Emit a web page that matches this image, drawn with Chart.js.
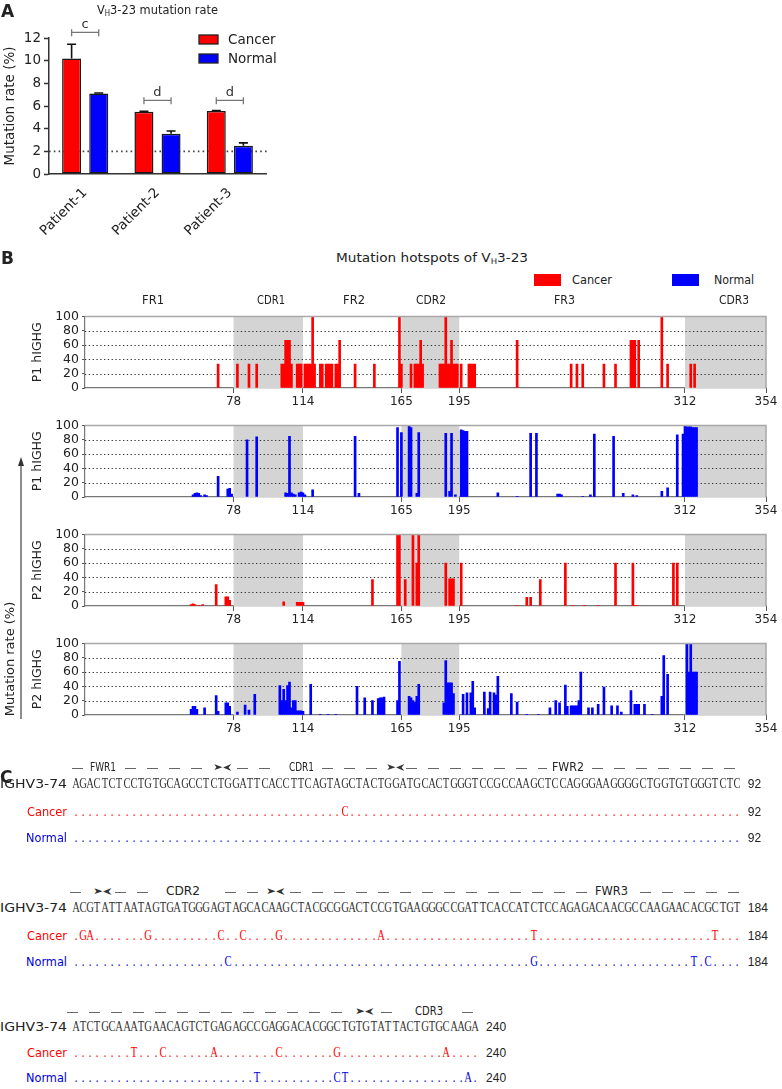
<!DOCTYPE html>
<html>
<head>
<meta charset="utf-8">
<script src="https://cdn.jsdelivr.net/npm/chart.js@4.4.1/dist/chart.umd.min.js"></script>
<style>
  body { margin: 0; background: #fff; width: 782px; height: 1089px; position: relative; overflow: hidden; font-family: 'DejaVu Sans', sans-serif; color: #222; }
  canvas { position: absolute; left: 0; }
  .t { position: absolute; white-space: nowrap; line-height: 20px; transform-origin: 0 50%; }
  .t sub { font-size: 62%; vertical-align: -2px; line-height: 0; }
  .c { position: absolute; width: 14px; text-align: center; line-height: 20px; font-family: 'Liberation Serif', serif; font-size: 14px; transform: scaleX(0.76); }
  .d { position: absolute; height: 1.3px; background: repeating-linear-gradient(to right, #666 0 11px, transparent 11px 22px); }
  .box { position: absolute; }
</style>
</head>
<body>
<canvas id="chartA" width="300" height="240" style="top:0"></canvas>
<canvas id="hs1" width="782" height="112" style="top:306px"></canvas>
<canvas id="hs2" width="782" height="112" style="top:415px"></canvas>
<canvas id="hs3" width="782" height="112" style="top:524px"></canvas>
<canvas id="hs4" width="782" height="112" style="top:633px"></canvas>
<svg style="position:absolute;left:14px;top:457px" width="14" height="264">
  <line x1="7" y1="6" x2="7" y2="262" stroke="#444" stroke-width="1.2"/>
  <polygon points="7,0 4,9 10,9" fill="#333"/>
</svg>
<script>
// ---- Panel A: VH3-23 mutation rate
const patients = ['Patient-1', 'Patient-2', 'Patient-3'];
const cancerRate = [10.2, 5.5, 5.55];
const cancerErr = [1.25, 0.03, 0.05];
const normalRate = [7.1, 3.55, 2.5];
const normalErr = [0.05, 0.25, 0.25];
const sigLabels = ['c', 'd', 'd'];
const sigLevel = [12.5, 6.5, 6.5];
const refLine = 2;

// ---- Panel B: mutation hotspots (nucleotide position, mutation rate %)
const posTicks = [78, 114, 165, 195, 312, 354];
const cdrStart = [78, 165, 312];
const cdrEnd = [114, 195, 354];
const regionNames = ['FR1', 'CDR1', 'FR2', 'CDR2', 'FR3', 'CDR3'];
const regionLabelPos = [36.5, 97.4, 140.4, 180.4, 249.6, 337.4];
const hotGrid = [20, 40, 60, 80];

const p1CancerPos = [70, 80, 86, 90, 103, 104, 105, 106, 107, 108, 111, 112, 113, 115, 116, 117, 118, 119, 120, 123, 124, 126, 127, 128, 129, 131, 132, 133, 141, 151, 164, 165, 170, 172, 173, 174, 175, 176, 185, 186, 187, 188, 189, 190, 191, 192, 193, 194, 196, 200, 201, 202, 203, 225, 253, 256, 259, 270, 276, 284, 285, 286, 288, 300, 303, 315, 317];
const p1CancerVal = [33.3, 33.3, 33.3, 33.3, 33.3, 33.3, 66.7, 66.7, 66.7, 33.3, 33.3, 33.3, 33.3, 33.3, 33.3, 33.3, 33.3, 100, 33.3, 33.3, 33.3, 33.3, 33.3, 33.3, 33.3, 33.3, 33.3, 66.7, 33.3, 33.3, 100, 33.3, 33.3, 33.3, 33.3, 33.3, 66.7, 33.3, 33.3, 33.3, 33.3, 100, 33.3, 33.3, 66.7, 33.3, 33.3, 33.3, 33.3, 33.3, 33.3, 33.3, 33.3, 66.7, 33.3, 33.3, 33.3, 33.3, 33.3, 66.7, 66.7, 66.7, 66.7, 100, 33.3, 33.3, 33.3];

const p1NormalPos = [57, 58, 59, 60, 61, 63, 64, 70, 75, 76, 77, 85, 90, 105, 106, 107, 108, 109, 110, 112, 113, 114, 115, 119, 141, 143, 163, 165, 169, 170, 173, 174, 188, 190, 191, 193, 196, 197, 198, 199, 215, 225, 232, 235, 246, 247, 248, 259, 263, 265, 275, 280, 285, 287, 300, 303, 308, 311, 312, 313, 314, 315, 316, 317, 318];
const p1NormalVal = [3, 5, 6, 5, 2, 3, 2, 29, 11, 12, 4, 80, 84, 6, 5, 85, 6, 4, 3, 6, 7, 6, 3, 10, 85, 5, 97, 90, 100, 97, 5, 90, 89, 8, 89, 3, 94, 93, 92, 92, 6, 1, 89, 89, 4, 4, 3, 1, 3, 88, 85, 5, 3, 2, 8, 13, 87, 88, 100, 98, 98, 98, 97, 97, 97];

const p2CancerPos = [56, 57, 58, 60, 62, 69, 74, 75, 76, 104, 111, 112, 113, 114, 150, 163, 164, 167, 171, 173, 174, 188, 190, 191, 192, 196, 225, 230, 232, 237, 250, 254, 260, 267, 276, 285, 286, 287, 306, 308];
const p2CancerVal = [2, 3, 2, 1, 2, 30, 13, 13, 8, 6, 5, 5, 5, 5, 37, 100, 100, 37, 100, 60, 100, 60, 38, 38, 38, 60, 1, 12, 12, 37, 60, 1, 1, 1, 60, 60, 1, 1, 60, 60];

const p2NormalPos = [56, 57, 58, 59, 63, 69, 70, 74, 75, 76, 80, 84, 86, 89, 102, 103, 104, 105, 106, 107, 108, 109, 110, 111, 112, 113, 114, 118, 123, 127, 131, 142, 146, 150, 153, 154, 155, 156, 163, 164, 169, 170, 171, 172, 173, 174, 187, 188, 189, 190, 191, 192, 197, 199, 201, 202, 203, 208, 210, 211, 213, 214, 215, 222, 225, 230, 236, 242, 245, 247, 250, 251, 253, 254, 255, 256, 257, 258, 262, 264, 267, 270, 274, 277, 279, 284, 286, 287, 288, 291, 295, 300, 301, 303, 313, 314, 315, 316, 317, 318];
const p2NormalVal = [8, 12, 12, 8, 10, 27, 5, 17, 17, 12, 4, 14, 7, 29, 41, 20, 36, 20, 41, 46, 10, 20, 20, 6, 6, 6, 5, 43, 1, 1, 1, 40, 24, 20, 23, 24, 24, 25, 20, 75, 26, 24, 20, 18, 26, 43, 17, 76, 45, 45, 45, 30, 29, 31, 31, 47, 10, 32, 9, 32, 31, 28, 54, 30, 18, 1, 1, 10, 20, 17, 42, 12, 13, 13, 13, 13, 20, 60, 10, 10, 15, 39, 13, 13, 4, 34, 15, 15, 15, 15, 1, 26, 83, 57, 100, 60, 100, 60, 60, 60];

// ---- Panel C: IGHV3-74 alignment
const seqRows = [
  'AGACTCTCCTGTGCAGCCTCTGGATTCACCTTCAGTAGCTACTGGATGCACTGGGTCCGCCAAGCTCCAGGGAAGGGGCTGGTGTGGGTCTC',
  'ACGTATTAATAGTGATGGGAGTAGCACAAGCTACGCGGACTCCGTGAAGGGCCGATTCACCATCTCCAGAGACAACGCCAAGAACACGCTGT',
  'ATCTGCAAATGAACAGTCTGAGAGCCGAGGACACGGCTGTGTATTACTGTGCAAGA'
];
const rowEnds = [92, 184, 240];
const cancerMut = [
  [[37, 'C']],
  [[1, 'G'], [2, 'A'], [10, 'G'], [20, 'C'], [23, 'C'], [28, 'G'], [42, 'A'], [63, 'T'], [88, 'T']],
  [[8, 'T'], [12, 'C'], [19, 'A'], [28, 'C'], [36, 'G'], [51, 'A']]
];
const normalMut = [
  [],
  [[21, 'C'], [63, 'G'], [85, 'T'], [87, 'C']],
  [[25, 'T'], [36, 'C'], [37, 'T'], [54, 'A']]
];

const RED = '#ff0000';
const BLUE = '#0000ff';
Chart.defaults.font.family = 'DejaVu Sans';
Chart.defaults.color = '#222';

// ---------- Panel A chart
const panelAPlugin = {
  id: 'panelA',
  beforeDatasetsDraw(chart) {
    const {ctx, chartArea: a, scales: {y}} = chart;
    const yy = y.getPixelForValue(refLine);
    ctx.save();
    ctx.strokeStyle = '#444';
    ctx.lineWidth = 1.6;
    ctx.setLineDash([1.6, 3.2]);
    ctx.beginPath();
    ctx.moveTo(a.left, yy);
    ctx.lineTo(a.right + 2, yy);
    ctx.stroke();
    ctx.restore();
  },
  afterDatasetsDraw(chart) {
    const {ctx, scales: {y}} = chart;
    const errs = [cancerErr, normalErr];
    const vals = [cancerRate, normalRate];
    ctx.save();
    // error bars (upper only)
    ctx.strokeStyle = '#111';
    ctx.lineWidth = 1.6;
    errs.forEach((e, d) => {
      chart.getDatasetMeta(d).data.forEach((bar, i) => {
        const top = y.getPixelForValue(vals[d][i] + e[i]);
        ctx.beginPath();
        ctx.moveTo(bar.x, bar.y);
        ctx.lineTo(bar.x, top);
        ctx.moveTo(bar.x - 4.5, top);
        ctx.lineTo(bar.x + 4.5, top);
        ctx.stroke();
      });
    });
    // significance brackets
    const m0 = chart.getDatasetMeta(0).data, m1 = chart.getDatasetMeta(1).data;
    ctx.strokeStyle = '#777';
    ctx.lineWidth = 1.3;
    ctx.fillStyle = '#333';
    ctx.font = '13px "DejaVu Sans"';
    ctx.textAlign = 'center';
    ctx.textBaseline = 'middle';
    sigLabels.forEach((lab, i) => {
      const x1 = m0[i].x, x2 = m1[i].x, yy = y.getPixelForValue(sigLevel[i]);
      ctx.beginPath();
      ctx.moveTo(x1, yy - 3); ctx.lineTo(x1, yy + 4);
      ctx.moveTo(x1, yy); ctx.lineTo(x2, yy);
      ctx.moveTo(x2, yy - 3); ctx.lineTo(x2, yy + 4);
      ctx.stroke();
      ctx.fillText(lab, (x1 + x2) / 2, yy - 8);
    });
    // legend
    ctx.textAlign = 'left';
    ctx.font = '13.5px "DejaVu Sans"';
    chart.data.datasets.forEach((ds, d) => {
      const by = 35 + d * 19;
      ctx.fillStyle = ds.backgroundColor;
      ctx.fillRect(199, by, 19, 9);
      ctx.strokeStyle = '#222';
      ctx.lineWidth = 1.3;
      ctx.strokeRect(199, by, 19, 9);
      ctx.fillStyle = '#222';
      ctx.fillText(ds.label, 228, by + 5);
    });
    ctx.restore();
  }
};

new Chart(document.getElementById('chartA'), {
  type: 'bar',
  data: {
    labels: patients,
    datasets: [
      { label: 'Cancer', data: cancerRate, backgroundColor: RED, borderColor: '#1a1a1a', borderWidth: 1.5, borderSkipped: false, categoryPercentage: 0.75, barPercentage: 0.7 },
      { label: 'Normal', data: normalRate, backgroundColor: BLUE, borderColor: '#1a1a1a', borderWidth: 1.5, borderSkipped: false, categoryPercentage: 0.75, barPercentage: 0.7 }
    ]
  },
  options: {
    responsive: false,
    animation: false,
    layout: { padding: { top: 38, right: 34, left: 0, bottom: 0 } },
    plugins: { legend: { display: false }, tooltip: { enabled: false } },
    scales: {
      x: {
        afterFit: s => { s.height = 66; },
        grid: { display: false },
        border: { color: '#333', width: 1.5 },
        ticks: { minRotation: 45, maxRotation: 45, font: { size: 13.5 }, color: '#222', padding: 3 }
      },
      y: {
        min: 0, max: 12,
        afterFit: s => { s.width = 49; },
        ticks: { stepSize: 2, font: { size: 13.5 }, color: '#222', padding: 3, autoSkip: false },
        grid: { drawOnChartArea: false, tickLength: 5, tickColor: '#333', tickWidth: 1.5 },
        border: { color: '#333', width: 1.5 },
        title: { display: true, text: 'Mutation rate (%)', font: { size: 13.5 }, color: '#222', padding: { top: 2 } }
      }
    }
  },
  plugins: [panelAPlugin]
});

// ---------- Panel B charts
const hotspotPlugin = {
  id: 'hotspotBg',
  beforeDatasetsDraw(chart) {
    const {ctx, chartArea: a, scales: {x, y}} = chart;
    ctx.save();
    ctx.fillStyle = '#d4d4d4';
    cdrStart.forEach((s, i) => {
      const x1 = x.getPixelForValue(s), x2 = x.getPixelForValue(cdrEnd[i]);
      ctx.fillRect(x1, a.top, x2 - x1, a.bottom - a.top);
    });
    ctx.strokeStyle = '#333';
    ctx.lineWidth = 1.2;
    ctx.setLineDash([1.3, 2.5]);
    hotGrid.forEach(v => {
      const yy = Math.round(y.getPixelForValue(v)) + 0.5;
      ctx.beginPath();
      ctx.moveTo(a.left, yy);
      ctx.lineTo(a.right, yy);
      ctx.stroke();
    });
    ctx.restore();
  },
  afterDatasetsDraw(chart) {
    const {ctx, chartArea: a} = chart;
    ctx.save();
    ctx.strokeStyle = '#a8a8a8';
    ctx.lineWidth = 1.5;
    ctx.beginPath();
    ctx.moveTo(a.left, a.top);
    ctx.lineTo(a.right, a.top);
    ctx.lineTo(a.right, a.bottom);
    ctx.stroke();
    ctx.restore();
  }
};

function hotspotChart(id, label, pos, vals, color) {
  return new Chart(document.getElementById(id), {
    type: 'bar',
    data: {
      datasets: [{ label: label, data: pos.map((p, i) => ({ x: p, y: vals[i] })), backgroundColor: color, borderWidth: 0, barThickness: 2 }]
    },
    options: {
      responsive: false,
      animation: false,
      layout: { padding: { top: 8, right: 16, left: 0, bottom: 0 } },
      plugins: { legend: { display: false }, tooltip: { enabled: false } },
      scales: {
        x: {
          type: 'linear', min: 1, max: 354, offset: false,
          afterBuildTicks: s => { s.ticks = posTicks.map(v => ({ value: v })); },
          afterFit: s => { s.height = 30; },
          grid: { drawOnChartArea: false, offset: false, tickLength: 5, tickColor: '#555' },
          border: { color: '#777', width: 1.2 },
          ticks: { autoSkip: false, maxRotation: 0, font: { size: 12 }, color: '#222', padding: 2 }
        },
        y: {
          min: 0, max: 100,
          afterFit: s => { s.width = 85; },
          ticks: { stepSize: 20, autoSkip: false, font: { size: 12.5 }, color: '#222', padding: 3 },
          grid: { drawOnChartArea: false, tickLength: 3, tickColor: '#555' },
          border: { color: '#777', width: 1.2 },
          title: { display: true, text: label, font: { size: 12.5 }, color: '#222', padding: { top: 30 } }
        }
      }
    },
    plugins: [hotspotPlugin]
  });
}

const hs1 = hotspotChart('hs1', 'P1 hIGHG', p1CancerPos, p1CancerVal, RED);
hotspotChart('hs2', 'P1 hIGHG', p1NormalPos, p1NormalVal, BLUE);
hotspotChart('hs3', 'P2 hIGHG', p2CancerPos, p2CancerVal, RED);
hotspotChart('hs4', 'P2 hIGHG', p2NormalPos, p2NormalVal, BLUE);

// ---------- text helpers
function put(x, yc, html, o) {
  o = o || {};
  const el = document.createElement('div');
  el.className = 't';
  el.innerHTML = html;
  el.style.left = x + 'px';
  el.style.top = (yc - 10) + 'px';
  el.style.fontSize = (o.size || 12) + 'px';
  if (o.color) el.style.color = o.color;
  if (o.font) el.style.fontFamily = o.font;
  if (o.bold) el.style.fontWeight = 'bold';
  document.body.appendChild(el);
  const w = el.getBoundingClientRect().width;
  if (o.w) el.style.transform = 'scaleX(' + (o.w / w) + ')';
  if (o.center) el.style.left = (x - (o.w || w) / 2) + 'px';
  return el;
}

// panel labels and titles
put(1, 11, 'A', { size: 17, bold: true });
put(97, 10, 'V<sub>H</sub>3-23 mutation rate', { size: 13, w: 121 });
put(1, 258, 'B', { size: 17, bold: true });
put(336, 258, 'Mutation hotspots of V<sub>H</sub>3-23', { size: 12.5, w: 192 });
put(0, 777, 'C', { size: 17, bold: true });

// panel B legend
[[RED, 'Cancer', 534, 572], [BLUE, 'Normal', 672, 714]].forEach(([c, s, bx, tx]) => {
  const b = document.createElement('div');
  b.className = 'box';
  Object.assign(b.style, { left: bx + 'px', top: '274px', width: '27px', height: '12px', background: c });
  document.body.appendChild(b);
  put(tx, 280, s, { size: 12.5, w: 40 });
});

// region labels above first hotspot chart
const regionW = [22, 28, 22, 30, 21, 30];
regionNames.forEach((r, i) => {
  put(hs1.scales.x.getPixelForValue(regionLabelPos[i]), 300, r, { size: 12.5, w: regionW[i], center: true });
});

// shared y title of panel B
const yt = put(10, 659, 'Mutation rate (%)', { size: 13 });
yt.style.left = '10px';
yt.style.top = '659px';
yt.style.transformOrigin = '0 0';
yt.style.transform = 'rotate(-90deg) translate(-50%, -50%)';

// ---------- Panel C: alignment text
const cellW = 7.27, seqLeft = 72;
const blockY = [[768, 784, 812, 838], [892, 908, 936, 962], [1012, 1027, 1053, 1078]];

function cellChar(i, yc, ch, color) {
  const el = document.createElement('div');
  el.className = 'c';
  el.textContent = ch;
  el.style.left = (seqLeft + cellW * (i + 0.5) - 7) + 'px';
  el.style.top = (yc - 10) + 'px';
  el.style.color = color;
  document.body.appendChild(el);
}
function dash(x1, x2, yc) {
  const el = document.createElement('div');
  el.className = 'd';
  Object.assign(el.style, { left: x1 + 'px', width: (x2 - x1) + 'px', top: (yc - 0.5) + 'px' });
  document.body.appendChild(el);
}

seqRows.forEach((seq, b) => {
  const [hy, sy, cy, ny] = blockY[b];
  const cm = {}, nm = {};
  cancerMut[b].forEach(([i, ch]) => { cm[i] = ch; });
  normalMut[b].forEach(([i, ch]) => { nm[i] = ch; });
  put(0, sy, 'IGHV3-74', { size: 13, w: 67 });
  put(27, cy, 'Cancer', { size: 13, w: 40, color: RED });
  put(26, ny, 'Normal', { size: 13, w: 41, color: '#0000dd' });
  for (let i = 0; i < seq.length; i++) {
    cellChar(i, sy, seq[i], '#333');
    cellChar(i, cy, cm[i] || '.', RED);
    cellChar(i, ny, nm[i] || '.', '#0000dd');
  }
  const endX = seqLeft + seq.length * cellW + 7;
  [sy, cy, ny].forEach(yy => put(endX, yy, String(rowEnds[b]), { size: 12, font: 'Liberation Sans' }));
});

// region headers over the alignment
const hdr = [
  { y: 768, dashes: [[72, 83], [125, 213], [237, 281], [322, 386], [406, 547], [592, 742]],
    labels: [['FWR1', 90, 26], ['CDR1', 289, 25], ['FWR2', 552, 32]], arrows: [213, 386] },
  { y: 892, dashes: [[70, 81], [115, 152], [225, 259], [290, 589], [640, 742]],
    labels: [['CDR2', 166, 34], ['FWR3', 595, 33]], arrows: [93, 266] },
  { y: 1012, dashes: [[67, 347], [381, 392], [462, 482]],
    labels: [['CDR3', 415, 28]], arrows: [355] }
];
hdr.forEach(h => {
  h.dashes.forEach(([a, b]) => dash(a, b, h.y));
  h.labels.forEach(([s, x, w]) => put(x, h.y - 1, s, { size: 12, w: w }));
  h.arrows.forEach(x => put(x, h.y - 1, '&#x27A4;&#x2B9C;', { size: 9, w: 18, color: '#333' }));
});
</script>
</body>
</html>
